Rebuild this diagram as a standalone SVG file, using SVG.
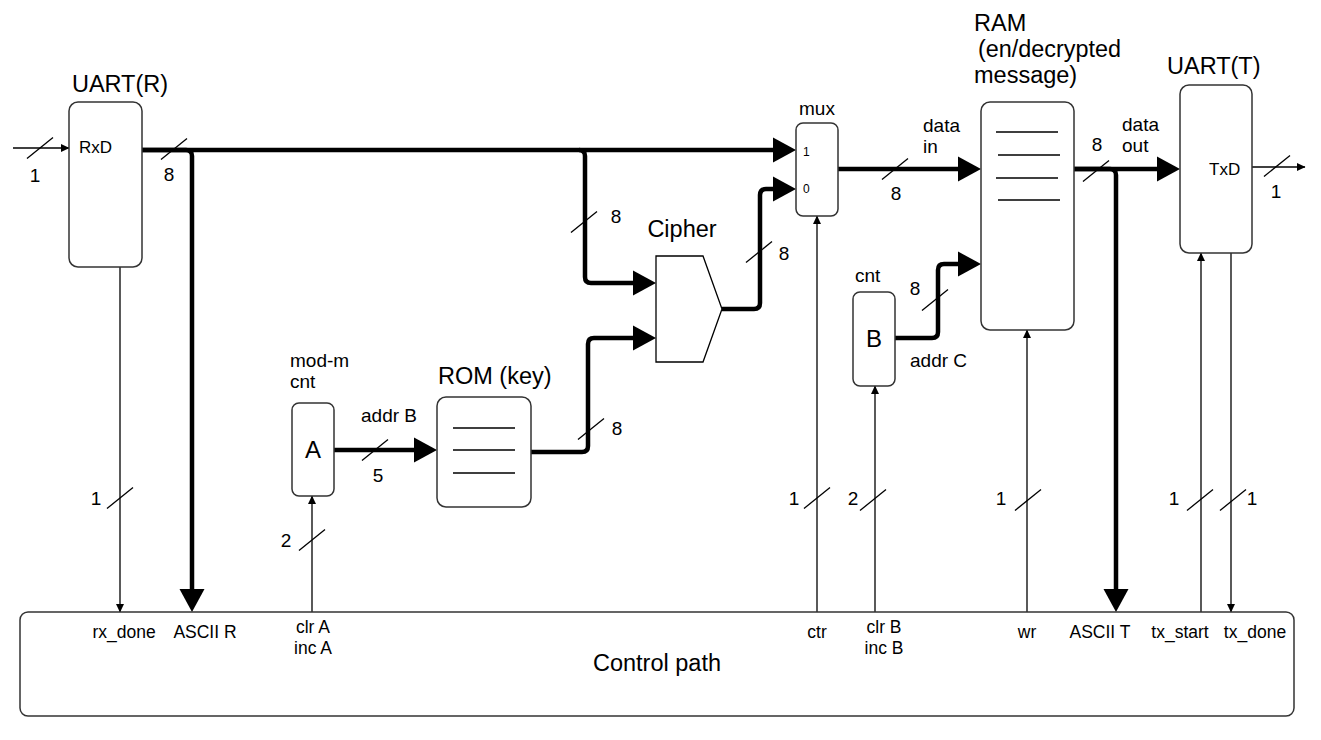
<svg xmlns="http://www.w3.org/2000/svg" width="1321" height="740" viewBox="0 0 1321 740">
<style>
text{font-family:"Liberation Sans",Arial,sans-serif;fill:#000}
.box{fill:#fff;stroke:#333;stroke-width:1.5}
.thick{fill:none;stroke:#000;stroke-width:4.5}
.thin{fill:none;stroke:#000;stroke-width:1.3}
.tick{stroke:#000;stroke-width:1.3}
.t{font-size:23.5px}
.m{font-size:19px}
.n{font-size:19px;text-anchor:middle}
.c{font-size:17.5px;text-anchor:middle}
.s{font-size:17px}
.big{font-size:24px;text-anchor:middle}
</style>
<defs>
<marker id="ab" markerUnits="userSpaceOnUse" markerWidth="24" markerHeight="26" viewBox="0 0 24 26" refX="17" refY="13" orient="auto"><path d="M0,0.5 L23,13 L0,25.5 Z" fill="#000"/></marker>
<marker id="as" markerUnits="userSpaceOnUse" markerWidth="9" markerHeight="9" viewBox="0 0 9 9" refX="8" refY="4.5" orient="auto"><path d="M0,0.5 L8.5,4.5 L0,8.5 Z" fill="#000"/></marker>
<path id="sl" d="M-13,10.5 L13,-10.5"/>
</defs>

<g id="connectors">
<path class="thin" d="M13,148 H69" marker-end="url(#as)"/>
<path class="thick" d="M141,150 H790" marker-end="url(#ab)"/>
<path class="thick" d="M141,150 H186 Q192,150 192,156 V606" marker-end="url(#ab)"/>
<path class="thick" d="M579,150 Q585,150 585,156 V277 Q585,283 591,283 H650" marker-end="url(#ab)"/>
<path class="thick" d="M722,309 H754 Q760,309 760,303 V195 Q760,189 766,189 H790" marker-end="url(#ab)"/>
<path class="thick" d="M531,452 H582 Q588,452 588,446 V344 Q588,338 594,338 H650" marker-end="url(#ab)"/>
<path class="thick" d="M334,450 H431" marker-end="url(#ab)"/>
<path class="thick" d="M838,169 H975" marker-end="url(#ab)"/>
<path class="thick" d="M895,338 H932 Q938,338 938,332 V270 Q938,264 944,264 H975" marker-end="url(#ab)"/>
<path class="thick" d="M1074,169 H1174" marker-end="url(#ab)"/>
<path class="thick" d="M1074,169 H1110 Q1116,169 1116,175 V606" marker-end="url(#ab)"/>
<path class="thin" d="M120,267 V612" marker-end="url(#as)"/>
<path class="thin" d="M312,612 V496" marker-end="url(#as)"/>
<path class="thin" d="M817,612 V216" marker-end="url(#as)"/>
<path class="thin" d="M875,612 V386" marker-end="url(#as)"/>
<path class="thin" d="M1027,612 V330" marker-end="url(#as)"/>
<path class="thin" d="M1201,612 V253" marker-end="url(#as)"/>
<path class="thin" d="M1231,253 V612" marker-end="url(#as)"/>
<path class="thin" d="M1252,167 H1305" marker-end="url(#as)"/>
<g class="tick">
<use href="#sl" x="40" y="148"/>
<use href="#sl" x="174" y="149"/>
<use href="#sl" x="584" y="222"/>
<use href="#sl" x="759" y="252"/>
<use href="#sl" x="895" y="169"/>
<use href="#sl" x="935" y="300"/>
<use href="#sl" x="1096" y="171"/>
<use href="#sl" x="1277" y="166"/>
<use href="#sl" x="375" y="450"/>
<use href="#sl" x="591" y="429"/>
<use href="#sl" x="120" y="498"/>
<use href="#sl" x="312" y="540"/>
<use href="#sl" x="817" y="498"/>
<use href="#sl" x="873" y="500"/>
<use href="#sl" x="1028" y="500"/>
<use href="#sl" x="1200" y="500"/>
<use href="#sl" x="1233" y="500"/>
</g>
<g>
<text class="n" x="35" y="182">1</text>
<text class="n" x="169" y="181">8</text>
<text class="n" x="616" y="223">8</text>
<text class="n" x="784" y="260">8</text>
<text class="n" x="896" y="200">8</text>
<text class="n" x="915" y="295">8</text>
<text class="n" x="1097" y="151">8</text>
<text class="n" x="1276" y="198">1</text>
<text class="n" x="378" y="482">5</text>
<text class="n" x="617" y="435">8</text>
<text class="n" x="96" y="505">1</text>
<text class="n" x="286" y="547">2</text>
<text class="n" x="794" y="505">1</text>
<text class="n" x="853" y="505">2</text>
<text class="n" x="1001" y="505">1</text>
<text class="n" x="1174" y="505">1</text>
<text class="n" x="1252" y="505">1</text>
<text class="m" x="923" y="132">data</text>
<text class="m" x="923" y="153">in</text>
<text class="m" x="1122" y="131">data</text>
<text class="m" x="1122" y="152">out</text>
<text class="m" x="361" y="422">addr B</text>
<text class="m" x="910" y="367">addr C</text>
</g>
</g>

<g id="uart-r">
<rect class="box" x="69" y="102" width="73" height="165" rx="9"/>
<text class="t" x="120" y="92" text-anchor="middle">UART(R)</text>
<text class="s" x="79" y="153">RxD</text>
</g>

<g id="mux">
<rect class="box" x="796" y="123" width="42" height="93" rx="7"/>
<text class="m" x="817" y="115" text-anchor="middle">mux</text>
<text x="803" y="156" font-size="12">1</text>
<text x="803" y="193" font-size="12">0</text>
</g>

<g id="cipher">
<polygon points="656,256 703,256 722,309 703,362 656,362" fill="#fff" stroke="#000" stroke-width="1.3"/>
<text class="t" x="682" y="237" text-anchor="middle">Cipher</text>
</g>

<g id="rom">
<rect class="box" x="437" y="397" width="94" height="110" rx="9"/>
<text class="t" x="438" y="384">ROM (key)</text>
<path class="thin" d="M453,428 H515 M453,450 H515 M453,473 H515"/>
</g>

<g id="cnt-a">
<rect class="box" x="292" y="403" width="42" height="93" rx="7"/>
<text class="m" x="290" y="367">mod-m</text>
<text class="m" x="290" y="388">cnt</text>
<text class="big" x="313" y="458">A</text>
</g>

<g id="cnt-b">
<rect class="box" x="853" y="292" width="42" height="94" rx="7"/>
<text class="m" x="855" y="282">cnt</text>
<text class="big" x="874" y="347">B</text>
</g>

<g id="ram">
<rect class="box" x="981" y="102" width="93" height="228" rx="9"/>
<text class="t" x="974" y="31">RAM</text>
<text class="t" x="978" y="57" textLength="143" lengthAdjust="spacingAndGlyphs">(en/decrypted</text>
<text class="t" x="974" y="83">message)</text>
<path class="thin" d="M996,132 H1058 M998,155 H1060 M996,178 H1058 M998,200 H1060"/>
</g>

<g id="uart-t">
<rect class="box" x="1180" y="85" width="72" height="168" rx="9"/>
<text class="t" x="1167" y="74">UART(T)</text>
<text class="s" x="1209" y="175">TxD</text>
</g>

<g id="control-path">
<rect class="box" x="20" y="612" width="1274" height="104" rx="8"/>
<text class="t" x="657" y="671" text-anchor="middle">Control path</text>
<text class="c" x="124" y="638">rx_done</text>
<text class="c" x="205" y="638">ASCII R</text>
<text class="c" x="313" y="633">clr A</text>
<text class="c" x="313" y="654">inc A</text>
<text class="c" x="817" y="638">ctr</text>
<text class="c" x="884" y="633">clr B</text>
<text class="c" x="884" y="654">inc B</text>
<text class="c" x="1027" y="638">wr</text>
<text class="c" x="1100" y="638">ASCII T</text>
<text class="c" x="1180" y="638">tx_start</text>
<text class="c" x="1255" y="638">tx_done</text>
</g>
</svg>
